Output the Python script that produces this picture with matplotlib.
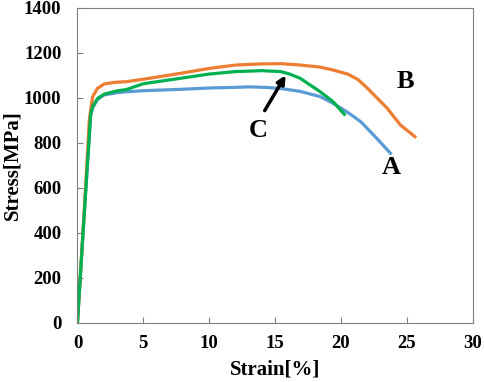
import matplotlib.pyplot as plt

# stress-strain curves
strain_a = [0, 0.5, 1.0, 1.15, 1.5, 2.0, 3, 3.7, 5, 7.8, 10, 12, 13.1, 14.5, 15.5, 16.9, 18.4, 19.4, 20.5, 21.5, 22.7, 23.75]
stress_a = [0, 470, 920, 955, 990, 1012, 1022, 1026, 1031, 1037, 1043, 1046, 1048, 1045, 1040, 1028, 1005, 975, 935, 893, 820, 753]

strain_b = [0, 0.5, 0.9, 1.15, 1.53, 2.04, 2.8, 3.7, 5, 7.8, 10, 12, 13.9, 15.5, 16.9, 18.4, 19.4, 20.5, 21.3, 22.0, 23.5, 24.5, 25.6]
stress_b = [0, 480, 900, 1004, 1042, 1061, 1068, 1071, 1082, 1108, 1130, 1145, 1150, 1151, 1145, 1136, 1123, 1105, 1080, 1042, 953, 879, 827]

strain_c = [0, 0.5, 1.0, 1.15, 1.53, 2.04, 3, 3.7, 5, 7.8, 10, 12, 14, 15.4, 16.1, 16.9, 18.4, 19.4, 20.25]
stress_c = [0, 470, 925, 960, 997, 1016, 1030, 1036, 1062, 1086, 1105, 1116, 1120, 1116, 1105, 1086, 1027, 982, 926]

plt.rcParams['font.family'] = ['Liberation Serif', 'DejaVu Serif']
plt.rcParams['font.weight'] = 'bold'

fig = plt.figure(figsize=(4.84, 3.82), dpi=100)
ax = fig.add_axes([0.160, 0.155, 0.817, 0.825])

ax.plot(strain_a, stress_a, color='#5B9BD5', lw=2.3, solid_joinstyle='round')
ax.plot(strain_b, stress_b, color='#ED7D31', lw=2.3, solid_joinstyle='round')
ax.plot(strain_c, stress_c, color='#00B050', lw=2.3, solid_joinstyle='round')

ax.set_xlim(0, 30)
ax.set_ylim(0, 1400)
ax.set_xticks(range(0, 31, 5))
ax.set_yticks(range(0, 1401, 200))
ax.tick_params(direction='in', length=4, color='#808080', labelsize=13.5)
ax.tick_params(axis='x', pad=9)
ax.tick_params(axis='y', pad=11.5)
for sp in ax.spines.values():
    sp.set_color('#808080')

ax.set_xlabel('Strain[%]', fontsize=15, fontweight='bold', labelpad=5)
ax.set_ylabel('Stress[MPa]', fontsize=15, fontweight='bold', labelpad=1)

# curve labels
ax.text(23.8, 688, 'A', fontsize=19, fontweight='bold', ha='center', va='center')
ax.text(24.9, 1070, 'B', fontsize=19, fontweight='bold', ha='center', va='center')
ax.text(13.7, 856, 'C', fontsize=19, fontweight='bold', ha='center', va='center')
ax.annotate('', xy=(15.9, 1110), xytext=(14.1, 932),
            arrowprops=dict(arrowstyle='-|>', color='black', lw=2.5, mutation_scale=12))

fig.savefig('out.png', dpi=100)
